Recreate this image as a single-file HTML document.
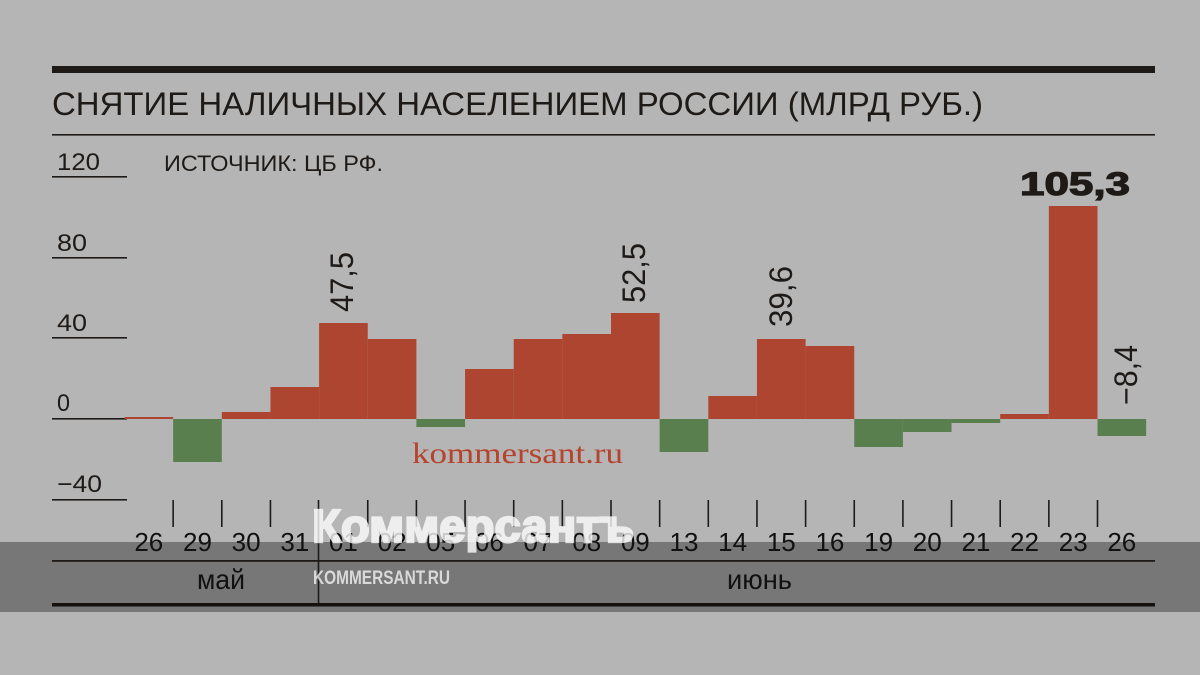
<!DOCTYPE html>
<html><head><meta charset="utf-8"><style>
html,body{margin:0;padding:0;background:#b5b5b5;}
svg{display:block;}
text{font-family:"Liberation Sans","DejaVu Sans",sans-serif;}
</style></head><body>
<svg width="1200" height="675" viewBox="0 0 1200 675" xmlns="http://www.w3.org/2000/svg">
<rect x="0" y="0" width="1200" height="675" fill="#b5b5b5"/>
<rect x="0" y="542" width="1200" height="70" fill="#777777"/>

<!-- top rules -->
<rect x="52" y="66" width="1103" height="7" fill="#1e1a17"/>
<text x="52" y="115" font-size="32" fill="#1e1a17" textLength="931" lengthAdjust="spacingAndGlyphs">СНЯТИЕ НАЛИЧНЫХ НАСЕЛЕНИЕМ РОССИИ (МЛРД РУБ.)</text>
<rect x="52" y="134" width="1103" height="1.6" fill="#1e1a17"/>

<!-- y axis -->
<g fill="#1e1a17" font-size="24">
<text x="57" y="170" textLength="43" lengthAdjust="spacingAndGlyphs">120</text>
<text x="57" y="251" textLength="30" lengthAdjust="spacingAndGlyphs">80</text>
<text x="57" y="331" textLength="30" lengthAdjust="spacingAndGlyphs">40</text>
<text x="57" y="411" textLength="13" lengthAdjust="spacingAndGlyphs">0</text>
<text x="57" y="492" textLength="45" lengthAdjust="spacingAndGlyphs">−40</text>
</g>
<g fill="#1e1a17">
<rect x="52" y="176" width="75" height="1.6"/>
<rect x="52" y="257" width="75" height="1.6"/>
<rect x="52" y="337" width="75" height="1.6"/>
<rect x="52" y="418" width="75" height="1.6"/>
<rect x="52" y="499" width="75" height="1.6"/>
</g>
<text x="164" y="171" font-size="22" fill="#1e1a17" textLength="219" lengthAdjust="spacingAndGlyphs">ИСТОЧНИК: ЦБ РФ.</text>

<!-- bars: x0=124.5, w=48.65 -->
<g fill="#ae4530">
<rect x="124.5" y="417" width="48.65" height="2"/>
<rect x="221.8" y="412" width="48.65" height="7"/>
<rect x="270.45" y="387" width="48.65" height="32"/>
<rect x="319.1" y="323" width="48.65" height="96"/>
<rect x="367.75" y="339" width="48.65" height="80"/>
<rect x="465.05" y="369" width="48.65" height="50"/>
<rect x="513.7" y="339" width="48.65" height="80"/>
<rect x="562.35" y="334" width="48.65" height="85"/>
<rect x="611" y="313" width="48.65" height="106"/>
<rect x="708.3" y="396" width="48.65" height="23"/>
<rect x="756.95" y="339" width="48.65" height="80"/>
<rect x="805.6" y="346" width="48.65" height="73"/>
<rect x="1000.2" y="414" width="48.65" height="5"/>
<rect x="1048.85" y="206" width="48.65" height="213"/>
</g>
<g fill="#5a7f4f">
<rect x="173.15" y="419" width="48.65" height="43"/>
<rect x="416.4" y="419" width="48.65" height="8"/>
<rect x="659.65" y="419" width="48.65" height="33"/>
<rect x="854.25" y="419" width="48.65" height="28"/>
<rect x="902.9" y="419" width="48.65" height="13"/>
<rect x="951.55" y="419" width="48.65" height="4"/>
<rect x="1097.5" y="419" width="48.65" height="17"/>
</g>

<!-- value labels -->
<g fill="#1e1a17" font-size="32">
<text transform="translate(353,312) rotate(-90)" textLength="60" lengthAdjust="spacingAndGlyphs">47,5</text>
<text transform="translate(645,303) rotate(-90)" textLength="60" lengthAdjust="spacingAndGlyphs">52,5</text>
<text transform="translate(792,327) rotate(-90)" textLength="61" lengthAdjust="spacingAndGlyphs">39,6</text>
<text transform="translate(1137,405) rotate(-90)" textLength="60" lengthAdjust="spacingAndGlyphs">−8,4</text>
</g>
<text x="1020" y="195" font-size="32" font-weight="bold" fill="#1e1a17" stroke="#1e1a17" stroke-width="1.2" textLength="110" lengthAdjust="spacingAndGlyphs">105,3</text>

<text x="412" y="463" font-size="30" fill="#b5432d" textLength="211" lengthAdjust="spacingAndGlyphs" style="font-family:'Liberation Serif',serif">kommersant.ru</text>

<!-- ticks -->
<g stroke="#1e1a17" stroke-width="1.6">
<line x1="173.15" y1="500" x2="173.15" y2="527"/>
<line x1="221.8" y1="500" x2="221.8" y2="527"/>
<line x1="270.45" y1="500" x2="270.45" y2="527"/>
<line x1="318.5" y1="500" x2="318.5" y2="605"/>
<line x1="367.75" y1="500" x2="367.75" y2="527"/>
<line x1="416.4" y1="500" x2="416.4" y2="527"/>
<line x1="465.05" y1="500" x2="465.05" y2="527"/>
<line x1="513.7" y1="500" x2="513.7" y2="527"/>
<line x1="562.35" y1="500" x2="562.35" y2="527"/>
<line x1="611" y1="500" x2="611" y2="527"/>
<line x1="659.65" y1="500" x2="659.65" y2="527"/>
<line x1="708.3" y1="500" x2="708.3" y2="527"/>
<line x1="756.95" y1="500" x2="756.95" y2="527"/>
<line x1="805.6" y1="500" x2="805.6" y2="527"/>
<line x1="854.25" y1="500" x2="854.25" y2="527"/>
<line x1="902.9" y1="500" x2="902.9" y2="527"/>
<line x1="951.55" y1="500" x2="951.55" y2="527"/>
<line x1="1000.2" y1="500" x2="1000.2" y2="527"/>
<line x1="1048.85" y1="500" x2="1048.85" y2="527"/>
<line x1="1097.5" y1="500" x2="1097.5" y2="527"/>
</g>

<!-- date labels -->
<g fill="#111" font-size="26" text-anchor="middle">
<text x="148.8" y="551">26</text>
<text x="197.5" y="551">29</text>
<text x="246.1" y="551">30</text>
<text x="294.8" y="551">31</text>
<text x="343.4" y="551">01</text>
<text x="392.1" y="551">02</text>
<text x="440.7" y="551">05</text>
<text x="489.4" y="551">06</text>
<text x="538" y="551">07</text>
<text x="586.7" y="551">08</text>
<text x="635.3" y="551">09</text>
<text x="684" y="551">13</text>
<text x="732.6" y="551">14</text>
<text x="781.3" y="551">15</text>
<text x="829.9" y="551">16</text>
<text x="878.6" y="551">19</text>
<text x="927.2" y="551">20</text>
<text x="975.9" y="551">21</text>
<text x="1024.5" y="551">22</text>
<text x="1073.2" y="551">23</text>
<text x="1121.8" y="551">26</text>
</g>
<rect x="52" y="560" width="1103" height="1.8" fill="#1e1a17"/>
<text x="197" y="589" font-size="28" fill="#111" textLength="48" lengthAdjust="spacingAndGlyphs">май</text>
<text x="727" y="589" font-size="28" fill="#111" textLength="65" lengthAdjust="spacingAndGlyphs">июнь</text>
<rect x="52" y="603" width="1103" height="3.5" fill="#14110f"/>

<!-- watermark -->
<g opacity="0.78">
<text x="312" y="542" font-size="46" font-weight="bold" fill="#ffffff" stroke="#ffffff" stroke-width="2.2" textLength="322" lengthAdjust="spacingAndGlyphs">Коммерсантъ</text>
</g>
<text x="313" y="584" font-size="19" font-weight="bold" fill="#ffffff" fill-opacity="0.72" textLength="137" lengthAdjust="spacingAndGlyphs">KOMMERSANT.RU</text>
</svg>
</body></html>
